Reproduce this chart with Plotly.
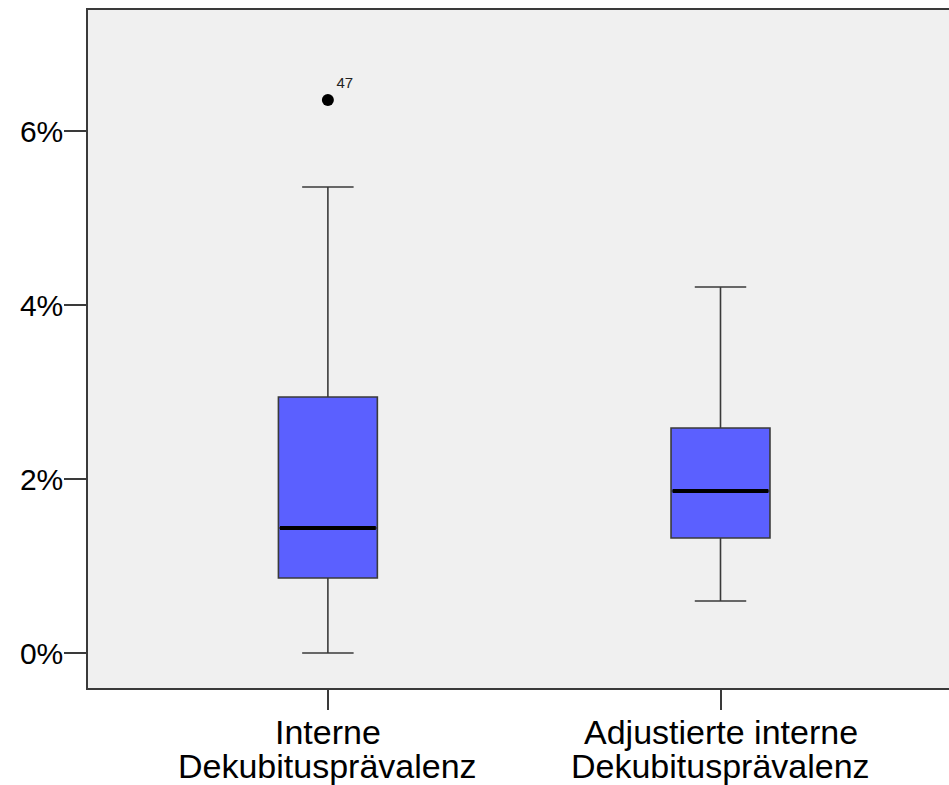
import plotly.graph_objects as go

# ---- data (fractions) ----
categories = [["Interne", "Dekubitusprävalenz"],
              ["Adjustierte interne", "Dekubitusprävalenz"]]
q1 = [0.00862, 0.01322]
median = [0.01437, 0.01862]
q3 = [0.02943, 0.02586]
lower = [0.0, 0.00598]
upper = [0.05356, 0.04207]
outlier_cat = [0]
outlier_val = [0.06356]
outlier_label = ["47"]
y_ticks = [0.0, 0.02, 0.04, 0.06]

BOX_W = 0.252
FILL = "rgb(91,96,255)"
EDGE = "#3a3a3a"
FONT = "Liberation Sans, Arial, sans-serif"

fig = go.Figure()
pos = list(range(len(categories)))
for i in pos:
    fig.add_trace(go.Box(
        x=[i], q1=[q1[i]], median=[median[i]], q3=[q3[i]],
        lowerfence=[lower[i]], upperfence=[upper[i]],
        width=BOX_W, whiskerwidth=0.52,
        fillcolor=FILL, line=dict(color=EDGE, width=1.6),
        boxpoints=False, showlegend=False, hoverinfo="skip"))
    # thick black median line
    fig.add_trace(go.Scatter(
        x=[i - BOX_W / 2 + 0.004, i + BOX_W / 2 - 0.004],
        y=[median[i], median[i]], mode="lines",
        line=dict(color="black", width=4), showlegend=False, hoverinfo="skip"))

fig.add_trace(go.Scatter(
    x=outlier_cat, y=outlier_val, mode="markers+text",
    marker=dict(color="black", size=12),
    text=outlier_label, textposition="top right",
    textfont=dict(family=FONT, size=15, color="#222"),
    showlegend=False, hoverinfo="skip"))

for i, lines in enumerate(categories):
    for j, ln in enumerate(lines):
        fig.add_annotation(
            x=i, y=0, xref="x", yref="paper", text=ln, showarrow=False,
            xanchor="center", yanchor="top", yshift=-23 - 34 * j,
            font=dict(family=FONT, size=34, color="black"))

fig.update_layout(
    width=949, height=785,
    margin=dict(l=88, r=0, t=10, b=97),
    paper_bgcolor="white", plot_bgcolor="#f0f0f0",
    font=dict(family=FONT, color="black"),
)
fig.update_xaxes(
    range=[-0.611, 1.582], tickvals=pos, showticklabels=False,
    ticks="outside", ticklen=20, tickcolor=EDGE, tickwidth=1.5,
    showline=True, linecolor=EDGE, linewidth=1.5, mirror=True,
    showgrid=False, zeroline=False)
fig.update_yaxes(
    range=[-0.00402, 0.07391], tickvals=y_ticks, tickformat=".0%",
    ticks="outside", ticklen=22, tickcolor=EDGE, tickwidth=1.5,
    ticklabelstandoff=-5,
    tickfont=dict(family=FONT, size=30, color="black"),
    showline=True, linecolor=EDGE, linewidth=1.5,
    showgrid=False, zeroline=False)

fig.write_html("out.html", config={"displayModeBar": False},
               post_script="document.body.style.margin='0';"
                           "document.body.style.overflow='hidden';")
